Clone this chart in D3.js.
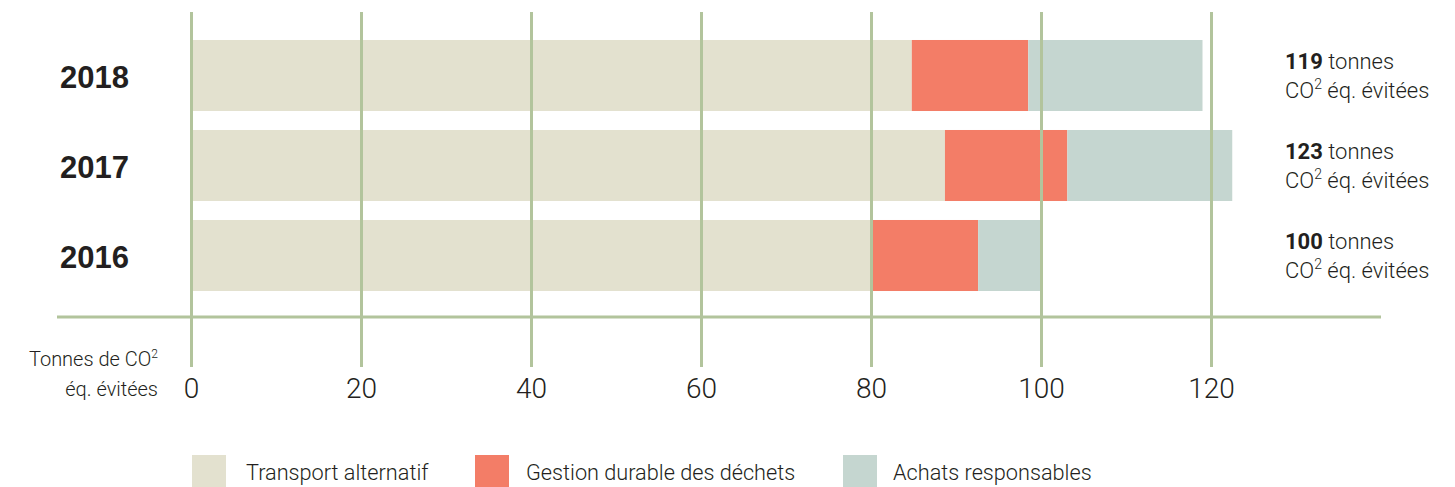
<!DOCTYPE html>
<html>
<head>
<meta charset="utf-8">
<script src="https://cdn.jsdelivr.net/npm/d3@7"></script>
<style>
  body { margin: 0; background: #fff; }
  text { font-family: Roboto, "Liberation Sans", sans-serif; fill: #231f20; }
</style>
</head>
<body>
<script>
const years = ["2018", "2017", "2016"];
const series = ["Transport alternatif", "Gestion durable des déchets", "Achats responsables"];
const transport = [84.8, 88.7, 80.1];
const gestion = [13.7, 14.4, 12.5];
const achats = [20.5, 19.4, 7.4];
const totals = [119, 123, 100];
const ticks = [0, 20, 40, 60, 80, 100, 120];
const colors = ["#e3e1cf", "#f37d67", "#c5d6d0"];

const svg = d3.select("body").append("svg")
    .attr("width", 1455)
    .attr("height", 487);

const x = d3.scaleLinear().domain([0, 120]).range([191, 1211]);
const y = d3.scaleBand().domain(years).range([30.5, 300.5]).paddingInner(0.211).paddingOuter(0.1055);

const data = years.map((yr, i) => ({year: yr, "Transport alternatif": transport[i],
    "Gestion durable des déchets": gestion[i], "Achats responsables": achats[i]}));
const stacked = d3.stack().keys(series)(data);

// bars
svg.append("g").selectAll("g")
    .data(stacked)
    .join("g")
    .attr("fill", (d, i) => colors[i])
    .selectAll("rect")
    .data(d => d)
    .join("rect")
    .attr("x", d => x(d[0]))
    .attr("width", d => x(d[1]) - x(d[0]))
    .attr("y", d => y(d.data.year))
    .attr("height", y.bandwidth());

// gridlines + tick labels
const axis = svg.append("g")
    .attr("transform", "translate(0,367)")
    .call(d3.axisBottom(x).tickValues(ticks).tickSize(-355).tickPadding(11));
axis.select(".domain").remove();
axis.selectAll(".tick line").attr("stroke", "#b2c49c").attr("stroke-width", 3);
axis.selectAll(".tick text")
    .style("font-family", "Roboto, sans-serif")
    .style("font-weight", 300)
    .style("font-size", "28px")
    .attr("fill", "#231f20");

// horizontal baseline
svg.append("line")
    .attr("x1", 57).attr("x2", 1381)
    .attr("y1", 317).attr("y2", 317)
    .attr("stroke", "#b2c49c").attr("stroke-width", 3);

// year labels
svg.append("g").selectAll("text")
    .data(years)
    .join("text")
    .attr("x", 60)
    .attr("y", d => y(d) + y.bandwidth() / 2 + 12)
    .style("font-family", "'Liberation Sans', Arial, sans-serif")
    .style("font-weight", "bold")
    .style("font-size", "31px")
    .text(d => d);

// total labels
const tot = svg.append("g").selectAll("g")
    .data(years)
    .join("g")
    .attr("transform", d => `translate(1285,${y(d)})`);
const t1 = tot.append("text").attr("y", 29).style("font-size", "22px").style("font-weight", 300);
t1.append("tspan").style("font-weight", "bold").text((d, i) => totals[i]);
t1.append("tspan").text(" tonnes");
const t2 = tot.append("text").attr("y", 58).style("font-size", "22px").style("font-weight", 300);
t2.append("tspan").text("CO");
t2.append("tspan").attr("dy", -9).style("font-size", "14px").text("2");
t2.append("tspan").attr("dy", 9).text(" éq. évitées");

// axis title
const title = svg.append("g").style("font-size", "20px").style("font-weight", 300);
const l1 = title.append("text").attr("x", 158).attr("y", 366).attr("text-anchor", "end");
l1.append("tspan").text("Tonnes de CO");
l1.append("tspan").attr("dy", -8).style("font-size", "12px").text("2");
title.append("text").attr("x", 158).attr("y", 396).attr("text-anchor", "end").text("éq. évitées");

// legend
const legendX = [192, 475, 843];
const legendTextX = [246, 526, 893];
const leg = svg.append("g").selectAll("g")
    .data(series)
    .join("g")
    .attr("transform", (d, i) => `translate(${legendX[i]},455)`);
leg.append("rect").attr("width", 34).attr("height", 32).attr("fill", (d, i) => colors[i]);
leg.append("text").attr("x", (d, i) => legendTextX[i] - legendX[i]).attr("y", 25)
    .style("font-size", "21.7px").style("font-weight", 300)
    .text(d => d);
</script>
</body>
</html>
